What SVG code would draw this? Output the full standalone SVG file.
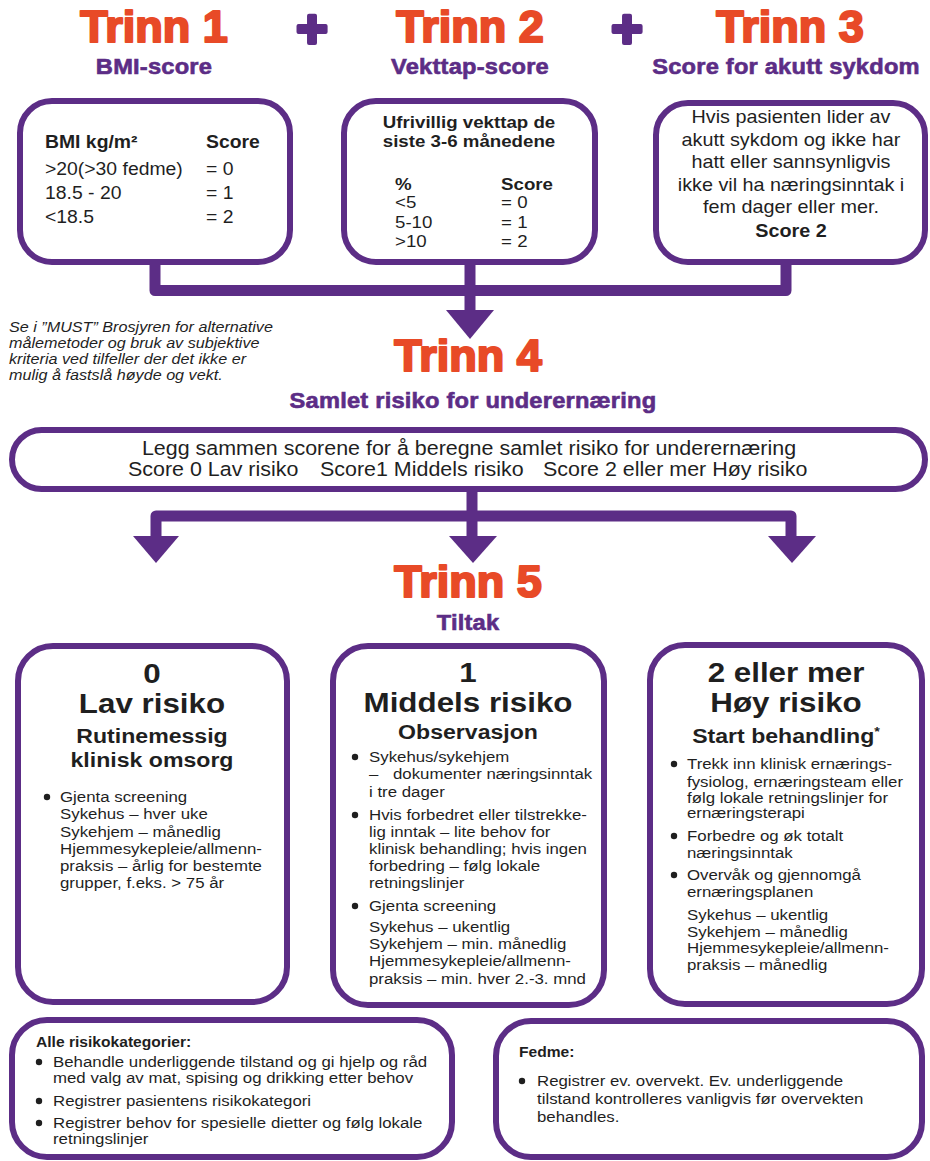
<svg xmlns="http://www.w3.org/2000/svg" width="930" height="1161" viewBox="0 0 930 1161">
<style>
text{font-family:"Liberation Sans",Arial,Helvetica,sans-serif;fill:#1f1f1f}
.b{font-weight:bold}
.m{text-anchor:middle}
.i{font-style:italic}
.h{font-size:45px;font-weight:bold;fill:#E84A27;stroke:#E84A27;stroke-width:2.2px;stroke-linejoin:round;text-anchor:middle}
.s{font-size:21.5px;font-weight:bold;fill:#5C2D86;stroke:#5C2D86;stroke-width:0.6px;letter-spacing:0.2px;text-anchor:middle}
.plus{font-size:54px;font-weight:bold;fill:#5C2D86;stroke:#5C2D86;stroke-width:4px;stroke-linejoin:round;text-anchor:middle}
.box{fill:#fff;stroke:#5C2D86;stroke-width:6}
.con{fill:none;stroke:#5C2D86;stroke-width:11;stroke-linejoin:round}
.ah{fill:#5C2D86}
.dot{fill:#1f1f1f}
</style>
<rect width="930" height="1161" fill="#fff"/>

<g id="connectors">
<path class="con" d="M155 262 V290.5 H786 V262"/>
<path class="con" d="M470 262 V312"/>
<polygon class="ah" points="446,310 494,310 470,339"/>
<path class="con" d="M472 488 V540"/>
<path class="con" d="M156 540 V516 H791 V540"/>
<polygon class="ah" points="133,536 179,536 156,563"/>
<polygon class="ah" points="449,536 497,536 473,563"/>
<polygon class="ah" points="768,536 816,536 792,563"/>
</g>

<g id="trinn1-title">
<text class="h" x="154" y="42">Trinn 1</text>
<text class="s" transform="translate(154 0) scale(1.1 1)" y="74">BMI-score</text>
</g>
<g id="plus1"><text class="plus" x="312" y="47">+</text></g>
<g id="trinn2-title">
<text class="h" x="470" y="42">Trinn 2</text>
<text class="s" transform="translate(470 0) scale(1.1 1)" y="74">Vekttap-score</text>
</g>
<g id="plus2"><text class="plus" x="627" y="47">+</text></g>
<g id="trinn3-title">
<text class="h" x="790" y="42">Trinn 3</text>
<text class="s" transform="translate(786 0) scale(1.1 1)" y="74">Score for akutt sykdom</text>
</g>

<g id="bmi-box">
<rect class="box" x="20" y="101" width="270" height="161" rx="32"/>
<g transform="translate(45 0) scale(1.1 1)" font-size="17.6">
<text class="b" y="148">BMI kg/m²</text>
<text class="b" x="146.4" y="148">Score</text>
<text y="175">&gt;20(&gt;30 fedme)</text><text x="146.4" y="175">= 0</text>
<text y="199">18.5 - 20</text><text x="146.4" y="199">= 1</text>
<text y="223">&lt;18.5</text><text x="146.4" y="223">= 2</text>
</g>
</g>

<g id="vekttap-box">
<rect class="box" x="344" y="101" width="251" height="161" rx="32"/>
<text class="b m" font-size="17" transform="translate(469 0) scale(1.1 1)" y="128">Ufrivillig vekttap de</text>
<text class="b m" font-size="17" transform="translate(469 0) scale(1.1 1)" y="147">siste 3-6 månedene</text>
<g transform="translate(395 0) scale(1.1 1)" font-size="17">
<text class="b" y="190">%</text><text class="b" x="96.4" y="190">Score</text>
<text y="208">&lt;5</text><text x="96.4" y="208">= 0</text>
<text y="228">5-10</text><text x="96.4" y="228">= 1</text>
<text y="247">&gt;10</text><text x="96.4" y="247">= 2</text>
</g>
</g>

<g id="akutt-box">
<rect class="box" x="656" y="103" width="269" height="159" rx="32"/>
<g transform="translate(791 0) scale(1.1 1)" font-size="18">
<text class="m" y="123">Hvis pasienten lider av</text>
<text class="m" y="146">akutt sykdom og ikke har</text>
<text class="m" y="168">hatt eller sannsynligvis</text>
<text class="m" y="191">ikke vil ha næringsinntak i</text>
<text class="m" y="213">fem dager eller mer.</text>
<text class="m b" y="237">Score 2</text>
</g>
</g>

<g id="note">
<g transform="translate(9 0) scale(1.1 1)" font-size="14.7">
<text class="i" y="332.5">Se i ”MUST” Brosjyren for alternative</text>
<text class="i" y="348.5">målemetoder og bruk av subjektive</text>
<text class="i" y="364.5">kriteria ved tilfeller der det ikke er</text>
<text class="i" y="380.5">mulig å fastslå høyde og vekt.</text>
</g>
</g>

<g id="trinn4-title">
<text class="h" x="468" y="371">Trinn 4</text>
<text class="s" transform="translate(473 0) scale(1.1 1)" y="408">Samlet risiko for underernæring</text>
</g>

<g id="samlet-box">
<rect class="box" x="12" y="430" width="913" height="59" rx="29.5"/>
<text class="m" font-size="19.5" transform="translate(469 0) scale(1.1 1)" y="455">Legg sammen scorene for å beregne samlet risiko for underernæring</text>
<text font-size="19.5" transform="translate(128 0) scale(1.1 1)" y="476">Score 0 Lav risiko</text>
<text font-size="19.5" transform="translate(320 0) scale(1.1 1)" y="476">Score1 Middels risiko</text>
<text font-size="19.5" transform="translate(543 0) scale(1.1 1)" y="476">Score 2 eller mer Høy risiko</text>
</g>

<g id="trinn5-title">
<text class="h" x="468" y="597">Trinn 5</text>
<text class="s" transform="translate(468 0) scale(1.1 1)" y="630">Tiltak</text>
</g>

<g id="lav-risiko">
<rect class="box" x="18" y="646" width="269" height="356" rx="35"/>
<g transform="translate(152 0) scale(1.1 1)">
<text class="b m" font-size="28.5" y="683">0</text>
<text class="b m" font-size="28.5" y="713">Lav risiko</text>
<text class="b m" font-size="21" y="743">Rutinemessig</text>
<text class="b m" font-size="21" y="767">klinisk omsorg</text>
</g>
<circle class="dot" cx="47" cy="797" r="3.2"/>
<g transform="translate(60 0) scale(1.1 1)" font-size="15.3">
<text y="802">Gjenta screening</text>
<text y="819.5">Sykehus – hver uke</text>
<text y="837">Sykehjem – månedlig</text>
<text y="854">Hjemmesykepleie/allmenn-</text>
<text y="871.5">praksis – årlig for bestemte</text>
<text y="888.5">grupper, f.eks. &gt; 75 år</text>
</g>
</g>

<g id="middels-risiko">
<rect class="box" x="333" y="646" width="271" height="359" rx="35"/>
<g transform="translate(468 0) scale(1.1 1)">
<text class="b m" font-size="28.5" y="682">1</text>
<text class="b m" font-size="28.5" y="712">Middels risiko</text>
<text class="b m" font-size="21" y="739">Observasjon</text>
</g>
<circle class="dot" cx="355" cy="757" r="3.2"/>
<circle class="dot" cx="355" cy="815" r="3.2"/>
<circle class="dot" cx="355" cy="906" r="3.2"/>
<g transform="translate(369 0) scale(1.1 1)" font-size="15.3">
<text y="762">Sykehus/sykehjem</text>
<text y="779">–</text><text x="21.8" y="779">dokumenter næringsinntak</text>
<text y="797">i tre dager</text>
<text y="820">Hvis forbedret eller tilstrekke-</text>
<text y="837">lig inntak – lite behov for</text>
<text y="854">klinisk behandling; hvis ingen</text>
<text y="871">forbedring – følg lokale</text>
<text y="888">retningslinjer</text>
<text y="911">Gjenta screening</text>
<text y="932.5">Sykehus – ukentlig</text>
<text y="949">Sykehjem – min. månedlig</text>
<text y="966.5">Hjemmesykepleie/allmenn-</text>
<text y="984">praksis – min. hver 2.-3. mnd</text>
</g>
</g>

<g id="hoy-risiko">
<rect class="box" x="650" y="645" width="272" height="359" rx="35"/>
<g transform="translate(786 0) scale(1.1 1)">
<text class="b m" font-size="28.5" y="682">2 eller mer</text>
<text class="b m" font-size="28.5" y="712">Høy risiko</text>
<text class="b m" font-size="21" y="743">Start behandling<tspan font-size="13" dy="-7">*</tspan></text>
</g>
<circle class="dot" cx="674" cy="764" r="3.2"/>
<circle class="dot" cx="674" cy="836" r="3.2"/>
<circle class="dot" cx="674" cy="875" r="3.2"/>
<g transform="translate(687 0) scale(1.1 1)" font-size="15.3">
<text y="769">Trekk inn klinisk ernærings-</text>
<text y="787">fysiolog, ernæringsteam eller</text>
<text y="803">følg lokale retningslinjer for</text>
<text y="818.5">ernæringsterapi</text>
<text y="841">Forbedre og øk totalt</text>
<text y="858">næringsinntak</text>
<text y="880">Overvåk og gjennomgå</text>
<text y="897">ernæringsplanen</text>
<text y="920">Sykehus – ukentlig</text>
<text y="937">Sykehjem – månedlig</text>
<text y="953.5">Hjemmesykepleie/allmenn-</text>
<text y="970.5">praksis – månedlig</text>
</g>
</g>

<g id="alle-risikokategorier">
<rect class="box" x="12" y="1020" width="440" height="137" rx="35"/>
<text class="b" font-size="14.2" transform="translate(36 0) scale(1.1 1)" y="1047">Alle risikokategorier:</text>
<circle class="dot" cx="39" cy="1062" r="3.2"/>
<circle class="dot" cx="39" cy="1101" r="3.2"/>
<circle class="dot" cx="39" cy="1123" r="3.2"/>
<g transform="translate(53 0) scale(1.1 1)" font-size="15.3">
<text y="1067">Behandle underliggende tilstand og gi hjelp og råd</text>
<text y="1083.5">med valg av mat, spising og drikking etter behov</text>
<text y="1106">Registrer pasientens risikokategori</text>
<text y="1128">Registrer behov for spesielle dietter og følg lokale</text>
<text y="1144.5">retningslinjer</text>
</g>
</g>

<g id="fedme">
<rect class="box" x="496" y="1021" width="426" height="136" rx="35"/>
<text class="b" font-size="14.2" transform="translate(519 0) scale(1.1 1)" y="1057">Fedme:</text>
<circle class="dot" cx="522" cy="1081" r="3.2"/>
<g transform="translate(537 0) scale(1.1 1)" font-size="15.3">
<text y="1086">Registrer ev. overvekt. Ev. underliggende</text>
<text y="1104">tilstand kontrolleres vanligvis før overvekten</text>
<text y="1122">behandles.</text>
</g>
</g>
</svg>
